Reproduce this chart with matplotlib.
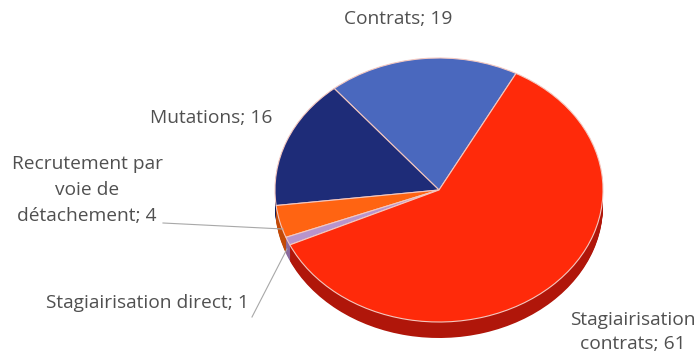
import matplotlib
matplotlib.use("Agg")
import matplotlib.pyplot as plt
from matplotlib.lines import Line2D

# Data (counter-clockwise from the start angle)
categories = ["Contrats", "Mutations", "Recrutement par\nvoie de\ndétachement",
              "Stagiairisation direct", "Stagiairisation\ncontrats"]
values = [19, 16, 4, 1, 61]
top_colors = ["#4A68BE", "#1E2C78", "#FF6412", "#B894CC", "#FF2A0A"]
side_colors = ["#2E4A96", "#121C55", "#C24A08", "#8A6A9E", "#B0160A"]

W, H = 699, 356
fig = plt.figure(figsize=(W / 100, H / 100), dpi=100)
ax = fig.add_axes([0, 0, 1, 1])

# Pie geometry in pixels: centre and radii of the top face, rim depth
cx, cy, rx, ry, depth = 439, 190, 164, 132, 16
start = 62

# Rim: stacked copies of the pie shifted downwards
n_layers = 18
for i in range(n_layers, 0, -1):
    off = depth / ry * i / n_layers
    ax.pie(values, colors=side_colors, startangle=start, counterclock=True,
           center=(0, -off), radius=1, frame=True,
           wedgeprops=dict(linewidth=0))

# Top face
ax.pie(values, colors=top_colors, startangle=start, counterclock=True,
       center=(0, 0), radius=1, frame=True,
       wedgeprops=dict(linewidth=0.8, edgecolor="#F4C8C0"))

ax.set_aspect("auto")
ax.set_xlim(-cx / rx, (W - cx) / rx)
ax.set_ylim(-(H - cy) / ry, cy / ry)
ax.axis("off")


def fx(px):
    return px / W


def fy(py):
    return 1 - py / H


txt = dict(family=["Open Sans", "DejaVu Sans"], fontsize=13.8, color="#505050",
           transform=fig.transFigure)

labels = [f"{c}; {v}" for c, v in zip(categories, values)]

fig.text(fx(398), fy(19), labels[0], ha="center", va="center", **txt)
fig.text(fx(272), fy(118), labels[1], ha="right", va="center", **txt)
fig.text(fx(87), fy(190), labels[2], ha="center", va="center",
         linespacing=1.55, **txt)
fig.text(fx(147), fy(303), labels[3], ha="center", va="center", **txt)
fig.text(fx(633), fy(332), labels[4], ha="center", va="center",
         linespacing=1.45, **txt)

# Leader lines for the two small slices
lc = dict(color="#A8A8A8", linewidth=0.8, transform=fig.transFigure)
fig.add_artist(Line2D([fx(163), fx(283)], [fy(223), fy(229)], **lc))
fig.add_artist(Line2D([fx(252), fx(287)], [fy(317), fy(249)], **lc))

fig.savefig("out.png", dpi=100)
